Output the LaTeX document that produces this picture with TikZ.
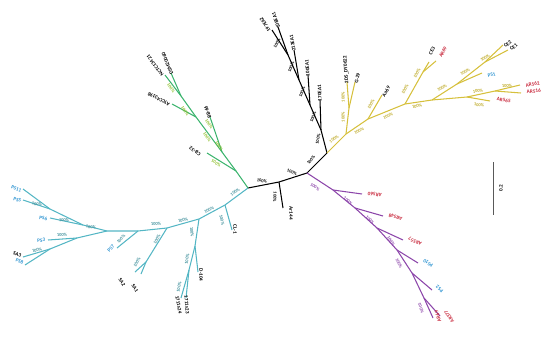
\documentclass[tikz,border=0pt]{standalone}
\usepackage{fontspec}
\setmainfont{Carlito}
\definecolor{tealc}{RGB}{84,182,196}
\definecolor{greenc}{RGB}{60,180,110}
\definecolor{greenl}{RGB}{140,190,40}
\definecolor{yelc}{RGB}{214,192,60}
\definecolor{yell}{RGB}{190,170,40}
\definecolor{purc}{RGB}{140,70,170}
\definecolor{redc}{RGB}{200,40,60}
\definecolor{bluec}{RGB}{50,150,210}
\begin{document}
\begin{tikzpicture}[x=1pt,y=-1pt,
  br/.style={line width=1.05pt},
  bs/.style={font=\fontsize{4.5}{5}\selectfont\bfseries, inner sep=0pt},
  tl/.style={font=\fontsize{5.2}{5.5}\selectfont\bfseries, inner sep=0.6pt}]
\useasboundingbox (0,0) rectangle (550,348);
% ---------- spine (black)
\coordinate (R1) at (248,188);
\coordinate (R2) at (279,182);
\coordinate (R3) at (307,173);
\coordinate (R4) at (327,153);
\coordinate (tAr) at (283,208);
\draw[br] (R1)--(R2)--(R3)--(R4);
\draw[br] (R2)--(tAr);
\node[tl,rotate=-90,anchor=west] (lAr) at ([xshift=8pt,yshift=2pt]tAr) {Ar144};
\node[bs,rotate=-12] (s1) at (262,181) {100\%};
\node[bs,rotate=-95] (s2) at (275,197) {100\%};
\node[bs,rotate=-20] (s3) at (292,172) {100\%};
\node[bs,rotate=50] (s4) at (311,160) {100\%};
\node[bs,rotate=78] (s5) at (318,139) {100\%};
% ---------- black clade
\coordinate (B1) at (321,130);
\coordinate (B2) at (310,105);
\coordinate (B3) at (299,80);
\coordinate (B4) at (288,55);
\coordinate (t170) at (320,100);
\coordinate (t100) at (308,75);
\coordinate (t213) at (294,50);
\coordinate (t197) at (272,30);
\coordinate (t108) at (278,27);
\draw[br] (R4)--(B1)--(B2)--(B3)--(B4)--(t197);
\draw[br] (B4)--(t108);
\draw[br] (B3)--(t213);
\draw[br] (B2)--(t100);
\draw[br] (B1)--(t170);
\node[tl,rotate=92,anchor=west] (l170) at ([yshift=-2pt]t170) {170EA1};
\node[tl,rotate=94,anchor=west] (l100) at ([yshift=-2pt]t100) {100EA1};
\node[tl,rotate=99,anchor=west] (l213) at ([yshift=-2pt]t213) {213EA1};
\node[tl,rotate=123,anchor=west] (l197) at ([xshift=-2pt,yshift=-2pt]t197) {197EA2};
\node[tl,rotate=110,anchor=west] (l108) at ([xshift=1pt,yshift=-2pt]t108) {108EA1};
\node[bs,rotate=66] (b1) at (313,117) {100\%};
\node[bs,rotate=66] (b2) at (302,92) {100\%};
\node[bs,rotate=66] (b3) at (291,67) {100\%};
\node[bs,rotate=62] (b4) at (277,43) {100\%};
% ---------- yellow clade
\begin{scope}[yelc]
\coordinate (Y1) at (346,134);
\coordinate (Yg) at (349,108);
\coordinate (tDY) at (347,82);
\coordinate (tG) at (355,82);
\coordinate (Y2) at (368,119);
\coordinate (tAa) at (382,95);
\coordinate (Y3) at (405,104);
\coordinate (Yc) at (423,72);
\coordinate (tCE3) at (429,62);
\coordinate (tAR69) at (436,61);
\coordinate (Y4) at (432,100);
\coordinate (Ym1) at (457,84);
\coordinate (tPS1) at (482,73);
\coordinate (Ym2) at (485,62);
\coordinate (tCE2) at (503,45);
\coordinate (tCE1) at (508,50);
\coordinate (Yl1) at (467,97);
\coordinate (tAR565) at (490,101);
\coordinate (Yl2) at (495,91);
\coordinate (tAR562) at (520,85);
\coordinate (tAR516) at (521,93);
\draw[br] (R4)--(Y1)--(Y2)--(Y3)--(Y4)--(Ym1)--(Ym2)--(tCE2);
\draw[br] (Ym2)--(tCE1);
\draw[br] (Ym1)--(tPS1);
\draw[br] (Y4)--(Yl1)--(Yl2)--(tAR562);
\draw[br] (Yl2)--(tAR516);
\draw[br] (Yl1)--(tAR565);
\draw[br] (Y3)--(Yc)--(tCE3);
\draw[br] (Yc)--(tAR69);
\draw[br] (Y2)--(tAa);
\draw[br] (Y1)--(Yg)--(tDY);
\draw[br] (Yg)--(tG);
\end{scope}
\node[tl,rotate=94,anchor=west] (lDY) at ([yshift=-2pt]tDY) {2DS\_DY0622};
\node[tl,rotate=77,anchor=west] (lG) at ([xshift=1pt,yshift=-2pt]tG) {G-29};
\node[tl,rotate=60,anchor=west] (lAa) at ([xshift=1pt,yshift=-2pt]tAa) {Aa69};
\node[tl,rotate=62] (lCE3) at (432,51) {CE3};
\node[tl,rotate=62,text=redc] (lAR69) at (443,52) {AR69};
\node[tl,rotate=40,anchor=west] (lCE2) at ([xshift=1pt,yshift=-2pt]tCE2) {CE2};
\node[tl,rotate=40,anchor=west] (lCE1) at ([xshift=2pt,yshift=0pt]tCE1) {CE1};
\node[tl,rotate=12,anchor=west,text=bluec] (lPS1) at ([xshift=5pt,yshift=-3pt]tPS1) {PS1};
\node[tl,rotate=12,anchor=west,text=redc] (lAR562) at ([xshift=5pt,yshift=-1pt]tAR562) {AR562};
\node[tl,rotate=6,anchor=west,text=redc] (lAR516) at ([xshift=5pt,yshift=1pt]tAR516) {AR516};
\node[tl,rotate=-8,anchor=west,text=redc] (lAR565) at ([xshift=6pt,yshift=2pt]tAR565) {AR565};
\begin{scope}[every node/.append style={text=yell}]
\node[bs,rotate=35] (y1) at (334,139) {100\%};
\node[bs,rotate=90] (y2) at (343,117) {100\%};
\node[bs,rotate=90] (y3) at (343,97) {100\%};
\node[bs,rotate=25] (y4) at (359,131) {100\%};
\node[bs,rotate=60] (y5) at (371,104) {100\%};
\node[bs,rotate=20] (y6) at (388,116) {100\%};
\node[bs,rotate=60] (y7) at (405,89) {100\%};
\node[bs,rotate=60] (y8) at (417,73) {100\%};
\node[bs,rotate=30] (y9) at (442,88) {100\%};
\node[bs,rotate=30] (y10) at (465,72) {100\%};
\node[bs,rotate=32] (y11) at (485,58) {100\%};
\node[bs,rotate=8] (y12) at (478,91) {100\%};
\node[bs,rotate=5] (y13) at (507,86) {100\%};
\node[bs,rotate=-6] (y14) at (479,105) {100\%};
\node[bs,rotate=15] (y15) at (417,106) {100\%};
\end{scope}
% ---------- purple clade
\begin{scope}[purc]
\coordinate (P1) at (333,190);
\coordinate (P2) at (355,208);
\coordinate (P3) at (377,228);
\coordinate (P4) at (397,250);
\coordinate (P5) at (412,273);
\coordinate (P6) at (424,298);
\coordinate (tA560) at (362,194);
\coordinate (tA548) at (383,216);
\coordinate (tA557) at (403,240);
\coordinate (tPS10) at (418,263);
\coordinate (tPS2) at (432,290);
\coordinate (tAR69b) at (433,318);
\coordinate (tA377) at (440,316);
\draw[br] (R3)--(P1)--(P2)--(P3)--(P4)--(P5)--(P6)--(tAR69b);
\draw[br] (P6)--(tA377);
\draw[br] (P1)--(tA560);
\draw[br] (P2)--(tA548);
\draw[br] (P3)--(tA557);
\draw[br] (P4)--(tPS10);
\draw[br] (P5)--(tPS2);
\end{scope}
\node[tl,rotate=172,anchor=east,text=redc] (lA560) at ([xshift=5pt,yshift=0.5pt]tA560) {AR560};
\node[tl,rotate=164,anchor=east,text=redc] (lA548) at ([xshift=5pt,yshift=1pt]tA548) {AR548};
\node[tl,rotate=155,anchor=east,text=redc] (lA557) at ([xshift=5pt,yshift=2pt]tA557) {AR557};
\node[tl,rotate=148,anchor=east,text=bluec] (lPS10) at ([xshift=5pt,yshift=3pt]tPS10) {PS10};
\node[tl,rotate=140,anchor=east,text=bluec] (lPS2) at ([xshift=4pt,yshift=4pt]tPS2) {PS2};
\node[tl,rotate=108,anchor=east,text=redc] (lAR69b) at ([xshift=3pt,yshift=8pt]tAR69b) {AR69};
\node[tl,rotate=122,anchor=east,text=redc] (lA377) at ([xshift=5pt,yshift=6pt]tA377) {AR377};
\begin{scope}[every node/.append style={text=purc}]
\node[bs,rotate=-35] (p1) at (315,187) {100\%};
\node[bs,rotate=-40] (p2) at (348,201) {100\%};
\node[bs,rotate=-45] (p3) at (370,220) {100\%};
\node[bs,rotate=-55] (p4) at (391,241) {100\%};
\node[bs,rotate=-65] (p5) at (399,263) {100\%};
\node[bs,rotate=-70] (p6) at (421,308) {100\%};
\end{scope}
% ---------- teal clade
\begin{scope}[tealc]
\coordinate (T1) at (225,205);
\coordinate (tCL) at (232,230);
\coordinate (T2) at (199,219);
\coordinate (T3) at (195,246);
\coordinate (tD) at (198,272);
\coordinate (T4) at (189,270);
\coordinate (t24) at (181,298);
\coordinate (t23) at (186,298);
\coordinate (T5) at (167,228);
\coordinate (TS) at (146,262);
\coordinate (tSA2) at (135,272);
\coordinate (tSA1) at (141,274);
\coordinate (T6) at (138,231);
\coordinate (tPS7) at (117,248);
\coordinate (T7) at (107,231);
\coordinate (U1) at (83,225);
\coordinate (tPS6) at (50,218);
\coordinate (U2) at (50,209);
\coordinate (tPS11) at (23,189);
\coordinate (tPS5) at (23,200);
\coordinate (L1) at (77,238);
\coordinate (tPS3) at (48,240);
\coordinate (L2) at (50,249);
\coordinate (tSA3) at (23,257);
\coordinate (tPS8) at (25,265);
\draw[br] (R1)--(T1)--(T2)--(T5)--(T6)--(T7)--(U1)--(U2)--(tPS11);
\draw[br] (U2)--(tPS5);
\draw[br] (U1)--(tPS6);
\draw[br] (T7)--(L1)--(L2)--(tSA3);
\draw[br] (L2)--(tPS8);
\draw[br] (L1)--(tPS3);
\draw[br] (T6)--(tPS7);
\draw[br] (T5)--(TS)--(tSA2);
\draw[br] (TS)--(tSA1);
\draw[br] (T1)--(tCL);
\draw[br] (T2)--(T3)--(tD);
\draw[br] (T3)--(T4)--(t24);
\draw[br] (T4)--(t23);
\end{scope}
\node[tl,rotate=-20,anchor=east,text=bluec] (lPS11) at ([xshift=-1pt,yshift=-2pt]tPS11) {PS11};
\node[tl,rotate=-15,anchor=east,text=bluec] (lPS5) at ([xshift=-1pt,yshift=-1pt]tPS5) {PS5};
\node[tl,rotate=-8,anchor=east,text=bluec] (lPS6) at ([xshift=-2pt,yshift=-1pt]tPS6) {PS6};
\node[tl,rotate=4,anchor=east,text=bluec] (lPS3) at ([xshift=-2pt,yshift=0pt]tPS3) {PS3};
\node[tl,rotate=-18,anchor=east] (lSA3) at ([xshift=-1pt,yshift=1pt]tSA3) {SA3};
\node[tl,rotate=-20,anchor=east,text=bluec] (lPS8) at ([xshift=-1pt,yshift=2pt]tPS8) {PS8};
\node[tl,rotate=50,anchor=east,text=bluec] (lPS7) at ([xshift=-3pt,yshift=3pt]tPS7) {PS7};
\node[tl,rotate=-60] (lSA2) at (122,282) {SA2};
\node[tl,rotate=-60] (lSA1) at (135,288) {SA1};
\node[tl,rotate=-80,anchor=west] (l24) at ([xshift=-4pt,yshift=3pt]t24) {1711s24};
\node[tl,rotate=-85,anchor=west] (l23) at ([xshift=0pt,yshift=3pt]t23) {1711s23};
\node[tl,rotate=-90,anchor=west] (lD) at ([xshift=3pt,yshift=4pt]tD) {D-104};
\node[tl,rotate=-90,anchor=west] (lCL) at ([xshift=3pt,yshift=6pt]tCL) {CL-1};
\begin{scope}[every node/.append style={text=tealc!80!black}]
\node[bs,rotate=-10] (c1) at (37,204) {100\%};
\node[bs,rotate=-5] (c2) at (64,220) {100\%};
\node[bs,rotate=5] (c3) at (62,235) {100\%};
\node[bs,rotate=15] (c4) at (37,250) {100\%};
\node[bs,rotate=-10] (c5) at (91,227) {100\%};
\node[bs,rotate=45] (c6) at (121,239) {100\%};
\node[bs,rotate=62] (c7) at (157,239) {100\%};
\node[bs,rotate=60] (c8) at (137,262) {100\%};
\node[bs,rotate=5] (c9) at (156,224) {100\%};
\node[bs,rotate=15] (c10) at (183,220) {100\%};
\node[bs,rotate=25] (c11) at (209,210) {100\%};
\node[bs,rotate=33] (c12) at (235,192) {100\%};
\node[bs,rotate=-78] (c13) at (222,220) {100\%};
\node[bs,rotate=-85] (c14) at (192,232) {100\%};
\node[bs,rotate=80] (c15) at (187,259) {100\%};
\node[bs,rotate=78] (c16) at (179,287) {100\%};
\end{scope}
% ---------- green clade
\begin{scope}[greenc]
\coordinate (G1) at (236,171);
\coordinate (tCB) at (207,153);
\coordinate (G2) at (222,152);
\coordinate (tBB) at (210,117);
\coordinate (G3) at (196,117);
\coordinate (tAT) at (172,104);
\coordinate (G4) at (181,96);
\coordinate (tNC) at (165,75);
\coordinate (tDS) at (171,73);
\draw[br] (R1)--(G1)--(G2)--(G3)--(G4)--(tNC);
\draw[br] (G4)--(tDS);
\draw[br] (G3)--(tAT);
\draw[br] (G2)--(tBB);
\draw[br] (G1)--(tCB);
\end{scope}
\node[tl,rotate=148,anchor=west] (lCB) at ([xshift=-6pt,yshift=-2pt]tCB) {CB-32};
\node[tl,rotate=109,anchor=west] (lBB) at ([xshift=0pt,yshift=-2pt]tBB) {BB-66};
\node[tl,rotate=152,anchor=west] (lAT) at ([xshift=-2pt,yshift=-1pt]tAT) {ATCC43198};
\node[tl,rotate=127,anchor=west] (lNC) at ([xshift=-2pt,yshift=-1pt]tNC) {NCTC13421};
\node[tl,rotate=112,anchor=west] (lDS) at ([xshift=1pt,yshift=-2pt]tDS) {DSM20060};
\begin{scope}[every node/.append style={text=greenl}]
\node[bs,rotate=-55] (g1) at (171,88) {100\%};
\node[bs,rotate=-55] (g2) at (185,111) {100\%};
\node[bs,rotate=-55] (g3) at (209,124) {100\%};
\node[bs,rotate=-55] (g4) at (207,137) {100\%};
\node[bs,rotate=-55] (g5) at (219,146) {100\%};
\node[bs,rotate=-30] (g6) at (216,163) {100\%};
\end{scope}
% ---------- scale bar
\coordinate (sb1) at (493,162);
\coordinate (sb2) at (493,215);
\draw[line width=0.8pt,gray!70!black] (sb1)--(sb2);
\node[tl,rotate=90] (lsb) at (501,188) {0.2};
\end{tikzpicture}
\end{document}
